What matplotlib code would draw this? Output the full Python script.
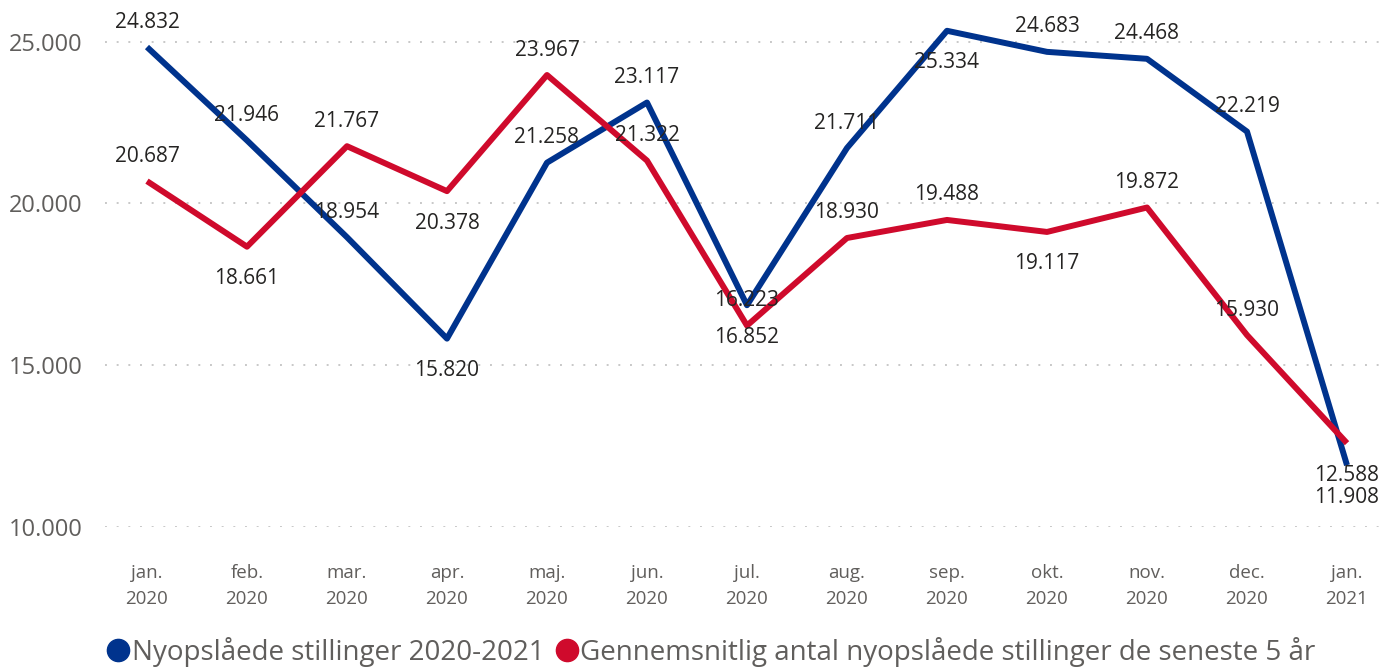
import numpy as np
import matplotlib.pyplot as plt
from matplotlib.lines import Line2D
from matplotlib.ticker import FuncFormatter

plt.rcParams['font.family'] = ['Open Sans', 'DejaVu Sans']

months = ['jan.\n2020', 'feb.\n2020', 'mar.\n2020', 'apr.\n2020', 'maj.\n2020', 'jun.\n2020',
          'jul.\n2020', 'aug.\n2020', 'sep.\n2020', 'okt.\n2020', 'nov.\n2020', 'dec.\n2020',
          'jan.\n2021']
nye = [24832, 21946, 18954, 15820, 21258, 23117, 16852, 21711, 25334, 24683, 24468, 22219, 11908]
snit = [20687, 18661, 21767, 20378, 23967, 21322, 16223, 18930, 19488, 19117, 19872, 15930, 12588]

# label placement: 1 = above the point, -1 = below
nye_pos = [1, 1, 1, -1, 1, 1, -1, 1, -1, 1, 1, 1, -1]
snit_pos = [1, -1, 1, -1, 1, 1, 1, 1, 1, -1, 1, 1, -1]

BLUE = '#00338d'
RED = '#cf0a2c'

def fmt(v):
    return f'{v:,.0f}'.replace(',', '.')

fig = plt.figure(figsize=(13.85, 6.67), dpi=100)
ax = fig.add_axes([0.0758, 0.21, 0.9242, 0.7616])

x = np.arange(len(months))
ax.plot(x, nye, color=BLUE, lw=4.3, solid_capstyle='butt', zorder=3)
ax.plot(x, snit, color=RED, lw=4.3, solid_capstyle='butt', zorder=3)

for vals, pos in [(nye, nye_pos), (snit, snit_pos)]:
    for i, v in enumerate(vals):
        off = 18 if pos[i] > 0 else -23
        ax.annotate(fmt(v), (i, v), xytext=(0, off), textcoords='offset points',
                    ha='center', va='center', fontsize=15, color='#252423', zorder=4)

ax.set_xlim(-0.42, 12.38)
ax.set_ylim(10000, 25700)
ax.set_yticks([10000, 15000, 20000, 25000])
ax.yaxis.set_major_formatter(FuncFormatter(lambda v, p: fmt(v)))
ax.set_xticks(x)
ax.set_xticklabels(months, fontsize=13.5, color='#605e5c', linespacing=1.56)
ax.tick_params(axis='y', labelsize=17, colors='#605e5c', length=0, pad=16)
ax.tick_params(axis='x', length=0, pad=27)
ax.grid(axis='y', color='#c8c8c8', linestyle=(0, (1, 5)), linewidth=1.4)
for s in ax.spines.values():
    s.set_visible(False)

handles = [Line2D([], [], marker='o', ls='', color=BLUE, markersize=16),
           Line2D([], [], marker='o', ls='', color=RED, markersize=16)]
fig.legend(handles, ['Nyopslåede stillinger 2020-2021',
                     'Gennemsnitlig antal nyopslåede stillinger de seneste 5 år'],
           loc='lower left', bbox_to_anchor=(0.057, -0.037), ncol=2, frameon=False,
           fontsize=20, handletextpad=0.0, columnspacing=0.3, labelcolor='#605e5c',
           handlelength=1.0)

fig.savefig('out.png', dpi=100)
